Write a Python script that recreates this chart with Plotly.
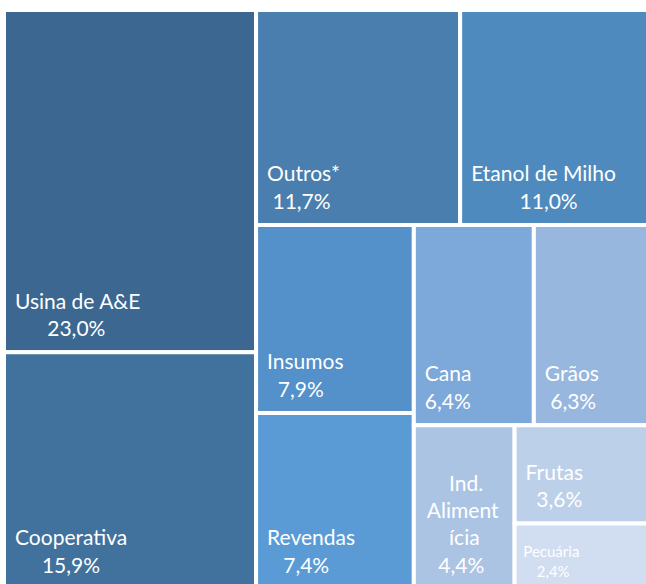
import plotly.graph_objects as go

labels = ["Usina de A&E", "Cooperativa", "Outros*", "Etanol de Milho", "Insumos",
          "Revendas", "Cana", "Grãos", "Ind. Alimentícia", "Frutas", "Pecuária"]
values = [23.0, 15.9, 11.7, 11.0, 7.9, 7.4, 6.4, 6.3, 4.4, 3.6, 2.4]
pct_text = ["23,0%", "15,9%", "11,7%", "11,0%", "7,9%", "7,4%", "6,4%", "6,3%", "4,4%", "3,6%", "2,4%"]
colors = ["#3B6790", "#41719D", "#4A7EAF", "#4F8ABF", "#5490CA", "#5A9BD6",
          "#7CA8DA", "#97B7DE", "#ACC4E3", "#BDD0E9", "#D1DDF0"]

nb = "\u00a0"
lead = nb + "\u2009"
tail = "<sub><span style='font-size:40px'>" + nb + "</span></sub>"
tail_small = "<sub><span style='font-size:30px'>" + nb + "</span></sub>"


def sp(n):
    return nb * n


texts = []
sizes = []
for lab, p in zip(labels, pct_text):
    if lab == "Ind. Alimentícia":
        t = (sp(6) + "Ind.<br>" + sp(2) + "Aliment<br>" + sp(6) + "ícia<br>"
             + sp(4) + p + tail)
        sizes.append(21)
    elif lab == "Pecuária":
        t = lead + lab + "<br>" + sp(5) + p + tail_small
        sizes.append(15)
    else:
        pad = max(0, round((len(lab) * 0.5 - len(p) * 0.55) / 2 / 0.26))
        t = lead + lab + "<br>" + lead + sp(pad) + p + tail
        sizes.append(21)
    texts.append(t)

root = "Total"
all_labels = [root] + labels
all_parents = [""] + [root] * len(labels)
all_values = [sum(values)] + values
all_texts = [""] + texts
all_colors = ["white"] + colors
all_sizes = [21] + sizes

fig = go.Figure(go.Treemap(
    labels=all_labels,
    parents=all_parents,
    values=all_values,
    text=all_texts,
    texttemplate="%{text}",
    textposition="bottom left",
    textfont=dict(family="Lato, Open Sans, sans-serif", color="white", size=all_sizes),
    marker=dict(colors=all_colors, line=dict(color="white", width=4),
                pad=dict(t=0, l=0, r=0, b=0)),
    tiling=dict(packing="squarify", squarifyratio=1, pad=0),
    sort=False,
    branchvalues="total",
    pathbar=dict(visible=False),
    hoverinfo="skip",
))
fig.update_layout(
    width=652, height=589,
    margin=dict(l=4, r=0, t=10, b=0),
    paper_bgcolor="white",
)
fig.write_html(
    "out.html",
    config={"displayModeBar": False},
    post_script="document.body.style.margin='0';document.body.style.overflow='hidden';"
                "document.documentElement.style.overflow='hidden';",
)
